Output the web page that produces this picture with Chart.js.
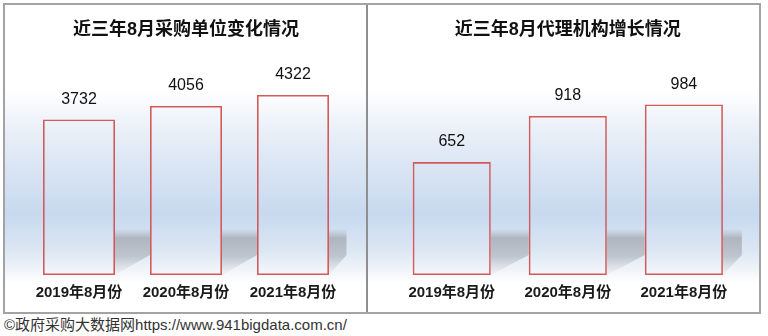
<!DOCTYPE html>
<html>
<head>
<meta charset="utf-8">
<script src="https://cdn.jsdelivr.net/npm/chart.js@4.4.1/dist/chart.umd.min.js"></script>
<style>
  html, body { margin: 0; padding: 0; background: #fff; }
  body { width: 768px; height: 336px; position: relative; overflow: hidden; }
  #frame { position: absolute; left: 3px; top: 3px; width: 754px; height: 307px; border: 2px solid #a3a3a3; }
  #divider { position: absolute; left: 361px; top: 0; width: 2px; height: 307px; background: #8f8f8f; }
  #leftBox { position: absolute; left: 0; top: 0; width: 361px; height: 307px; }
  #rightBox { position: absolute; left: 363px; top: 0; width: 391px; height: 307px; }
  #footer { position: absolute; left: 4px; top: 315px; font: 15px "Liberation Sans", "Noto Sans CJK SC", sans-serif; color: #333; line-height: 20px; white-space: nowrap; }
</style>
</head>
<body>
<div id="frame">
  <div id="leftBox"><canvas id="buyers" width="361" height="307"></canvas></div>
  <div id="divider"></div>
  <div id="rightBox"><canvas id="agencies" width="391" height="307"></canvas></div>
</div>
<div id="footer">©政府采购大数据网https://www.941bigdata.com.cn/</div>
<script>
// Categories and values
const months = ['2019年8月份', '2020年8月份', '2021年8月份'];
const buyerCounts = [3732, 4056, 4322];
const agencyCounts = [652, 918, 984];
const buyerTitle = '近三年8月采购单位变化情况';
const agencyTitle = '近三年8月代理机构增长情况';

const FONT = '"Liberation Sans", "Noto Sans CJK SC", "Noto Sans CJK JP", sans-serif';

// Soft blue backdrop behind the plot
const backdrop = {
  id: 'backdrop',
  beforeDraw(chart) {
    const { ctx, width } = chart;
    const g = ctx.createLinearGradient(0, 85, 0, 278);
    g.addColorStop(0, '#ffffff');
    g.addColorStop(0.25, '#e6edf7');
    g.addColorStop(0.64, '#c7d9ef');
    g.addColorStop(0.83, '#dce6f3');
    g.addColorStop(0.95, '#f4f7fb');
    g.addColorStop(1, '#ffffff');
    ctx.save();
    ctx.fillStyle = g;
    ctx.fillRect(0, 85, width, 193);
    ctx.restore();
  }
};

// Grey floor shadow cast to the right of each bar
const floorShadow = {
  id: 'floorShadow',
  beforeDatasetsDraw(chart) {
    const { ctx, chartArea } = chart;
    const bars = chart.getDatasetMeta(0).data;
    ctx.save();
    bars.forEach((bar, i) => {
      const xr = bar.x + bar.width / 2;
      const xn = i < bars.length - 1 ? bars[i + 1].x - bars[i + 1].width / 2 : chartArea.right;
      const base = bar.base;
      const top = base - 46;
      const g = ctx.createLinearGradient(0, top, 0, base);
      g.addColorStop(0, 'rgba(168,174,184,0)');
      g.addColorStop(0.2, 'rgba(168,174,184,0.85)');
      g.addColorStop(0.6, 'rgba(182,188,196,0.8)');
      g.addColorStop(1, 'rgba(236,238,241,0.5)');
      ctx.fillStyle = g;
      ctx.beginPath();
      ctx.moveTo(xr, top);
      ctx.lineTo(xn, top);
      ctx.lineTo(xn, base - 20);
      ctx.lineTo(xr, base);
      ctx.closePath();
      ctx.fill();
    });
    ctx.restore();
  }
};

// Value above each bar and category names under the plot
const labels = {
  id: 'labels',
  afterDatasetsDraw(chart, args, opts) {
    const { ctx } = chart;
    const meta = chart.getDatasetMeta(0);
    const xScale = chart.scales.x;
    const values = chart.data.datasets[0].data;
    ctx.save();
    ctx.textAlign = 'center';
    ctx.textBaseline = 'middle';
    ctx.fillStyle = '#111';
    ctx.font = '16px ' + FONT;
    meta.data.forEach((bar, i) => {
      ctx.fillText(String(values[i]), bar.x, bar.y - 20);
    });
    ctx.font = opts.catWeight + ' 15px ' + FONT;
    ctx.fillStyle = '#1a1a1a';
    chart.data.labels.forEach((lab, i) => {
      ctx.fillText(lab, xScale.getPixelForValue(i), 288);
    });
    ctx.restore();
  }
};

function makeChart(id, title, values, yMax, pad, titleGap, catWeight) {
  return new Chart(document.getElementById(id), {
    type: 'bar',
    data: {
      labels: months,
      datasets: [{
        data: values,
        backgroundColor: 'rgba(0,0,0,0)',
        borderColor: '#d45a5a',
        borderWidth: 1.6,
        borderSkipped: false,
        barPercentage: 0.673,
        categoryPercentage: 1
      }]
    },
    options: {
      responsive: false,
      animation: false,
      events: [],
      layout: { padding: { left: pad.left, right: pad.right, top: 0, bottom: 37 } },
      scales: {
        x: { display: false },
        y: { display: false, min: 0, max: yMax }
      },
      plugins: {
        legend: { display: false },
        tooltip: { enabled: false },
        title: {
          display: true,
          text: title,
          color: '#111',
          font: { family: FONT, size: 18, weight: 'bold', lineHeight: 1.2 },
          padding: { top: 14.2, bottom: titleGap }
        },
        labels: { catWeight: catWeight }
      }
    },
    plugins: [backdrop, floorShadow, labels]
  });
}

makeChart('buyers', buyerTitle, buyerCounts, 4500, { left: 20.5, right: 19.5 }, 46.7, 'bold');
makeChart('agencies', agencyTitle, agencyCounts, 1100, { left: 25.7, right: 17.1 }, 43.6, 'bold');
</script>
</body>
</html>
